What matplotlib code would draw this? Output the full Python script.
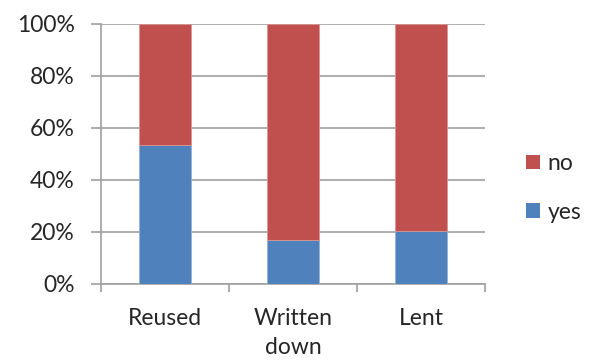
import matplotlib
matplotlib.use("Agg")
import matplotlib.pyplot as plt
from matplotlib.patches import Patch
from matplotlib.ticker import FuncFormatter, MultipleLocator

categories = ["Reused", "Written\ndown", "Lent"]
yes_pct = [53.3, 17, 20.4]
no_pct = [100 - v for v in yes_pct]

BLUE = "#4F81BD"
RED = "#C0504D"
GRID = "#A0A0A0"
TEXT = "#262626"

plt.rcParams["font.family"] = ["Lato", "DejaVu Sans"]
FS = 16.5

fig = plt.figure(figsize=(5.9, 3.6), dpi=100)
ax = fig.add_axes([101 / 590, 1 - 284 / 360, 384 / 590, 260 / 360])

x = list(range(len(categories)))
ax.bar(x, yes_pct, width=0.4, color=BLUE, edgecolor="#95B3D7", linewidth=0.6, zorder=3)
ax.bar(x, no_pct, bottom=yes_pct, width=0.4, color=RED, edgecolor="#D99694", linewidth=0.6, zorder=3)

ax.set_xlim(-0.5, len(categories) - 0.5)
ax.set_ylim(0, 100)
ax.yaxis.set_major_locator(MultipleLocator(20))
ax.yaxis.set_major_formatter(FuncFormatter(lambda v, _: f"{v:.0f}%"))
ax.grid(axis="y", color=GRID, linewidth=1.2, zorder=0)

for side in ("top", "right"):
    ax.spines[side].set_visible(False)
for side in ("left", "bottom"):
    ax.spines[side].set_color(GRID)
    ax.spines[side].set_linewidth(1.2)

ax.set_xticks(x)
ax.set_xticklabels(categories, fontsize=FS, color=TEXT, linespacing=1.5)
ax.tick_params(axis="x", length=0, pad=17)
ax.set_xticks([i - 0.5 for i in range(len(categories) + 1)], minor=True)
ax.tick_params(axis="x", which="minor", length=6, color=GRID, width=1.2)
ax.tick_params(axis="y", length=7, color=GRID, width=1.2, labelsize=FS, labelcolor=TEXT, pad=12)

handles = [Patch(facecolor=RED, label="no"), Patch(facecolor=BLUE, label="yes")]
fig.legend(handles=handles, loc="center left", bbox_to_anchor=(526 / 590, 1 - 188 / 360),
           frameon=False, borderpad=0, borderaxespad=0, fontsize=FS,
           handlelength=0.6, handleheight=0.6, handletextpad=0.35,
           labelspacing=1.2, labelcolor=TEXT)

fig.savefig("out.png", dpi=100)
